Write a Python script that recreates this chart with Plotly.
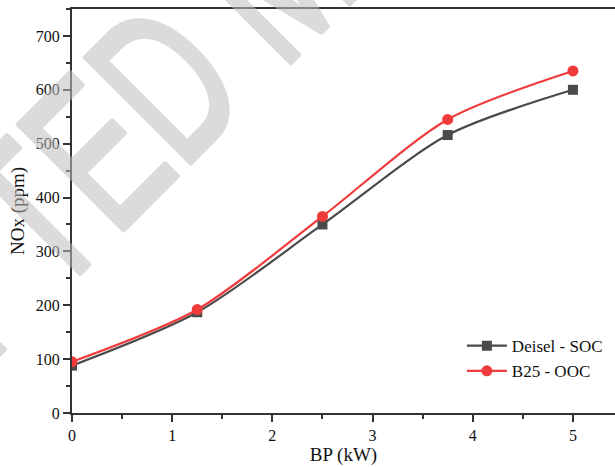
import plotly.graph_objects as go

bp = [0, 1.25, 2.5, 3.75, 5]
diesel_soc = [88, 187, 350, 516, 600]
b25_ooc = [95, 192, 365, 545, 635]
series_names = ["Deisel - SOC", "B25 - OOC"]

fig = go.Figure()
fig.add_trace(go.Scatter(
    x=bp, y=diesel_soc, name=series_names[0], mode="lines+markers",
    line=dict(color="#4a4a4a", width=2.2, shape="spline", smoothing=0.8),
    marker=dict(symbol="square", size=10, color="#4a4a4a"),
))
fig.add_trace(go.Scatter(
    x=bp, y=b25_ooc, name=series_names[1], mode="lines+markers",
    line=dict(color="#ef3b3b", width=2.2, shape="spline", smoothing=0.8),
    marker=dict(symbol="circle", size=11, color="#ef3b3b"),
))

font_family = "Liberation Serif"

fig.update_layout(
    width=615, height=467,
    margin=dict(l=72, r=0, t=9, b=54, autoexpand=False),
    paper_bgcolor="white", plot_bgcolor="white",
    font=dict(family=font_family, size=16, color="#111"),
    showlegend=True,
    legend=dict(x=0.718, y=0.21, xanchor="left", yanchor="top",
                bgcolor="rgba(0,0,0,0)", font=dict(size=17, family=font_family),
                itemwidth=40, tracegroupgap=0),
    xaxis=dict(
        range=[0, 5.42], tickvals=[0, 1, 2, 3, 4, 5],
        showgrid=False, zeroline=False, automargin=False,
        showline=True, linecolor="#333", linewidth=2, mirror=True,
        ticks="outside", ticklen=7, tickwidth=1.5, tickcolor="#333",
        minor=dict(dtick=0.5, ticks="outside", ticklen=4, tickwidth=1.5, tickcolor="#333"),
        title=dict(text="BP (kW)", font=dict(size=19, family=font_family), standoff=4),
        tickfont=dict(size=16, family=font_family),
    ),
    yaxis=dict(
        range=[0, 750], tickvals=[0, 100, 200, 300, 400, 500, 600, 700],
        showgrid=False, zeroline=False, automargin=False,
        showline=True, linecolor="#333", linewidth=2, mirror=False,
        ticks="outside", ticklen=7, tickwidth=1.5, tickcolor="#333",
        minor=dict(dtick=50, ticks="outside", ticklen=4, tickwidth=1.5, tickcolor="#333"),
        title=dict(text="NOx (ppm)", font=dict(size=19, family=font_family), standoff=6),
        tickfont=dict(size=16, family=font_family),
    ),
)

fig.add_annotation(
    text="ACCEPTED MANUSCRIPT", xref="paper", yref="paper",
    x=0.372, y=1.088, xanchor="center", yanchor="middle",
    textangle=-45, showarrow=False,
    font=dict(family="Liberation Sans", size=215, color="rgb(190,190,190)"),
)

post = """
var t = document.querySelector('.annotation-text');
if (t) {
  var b = t.getBBox();
  var cx = b.x + b.width / 2, cy = b.y + b.height / 2;
  t.setAttribute('transform', 'translate(' + cx + ',' + cy + ') scale(0.66,1) translate(' + (-cx) + ',' + (-cy) + ')');
  t.style.stroke = 'rgb(190,190,190)';
  t.style.strokeWidth = '6px';
  t.style.strokeLinejoin = 'round';
  t.style.opacity = '0.55';
}
"""

fig.write_html("out.html", config={"displayModeBar": False},
               post_script=["document.body.style.margin='0px';", post])
